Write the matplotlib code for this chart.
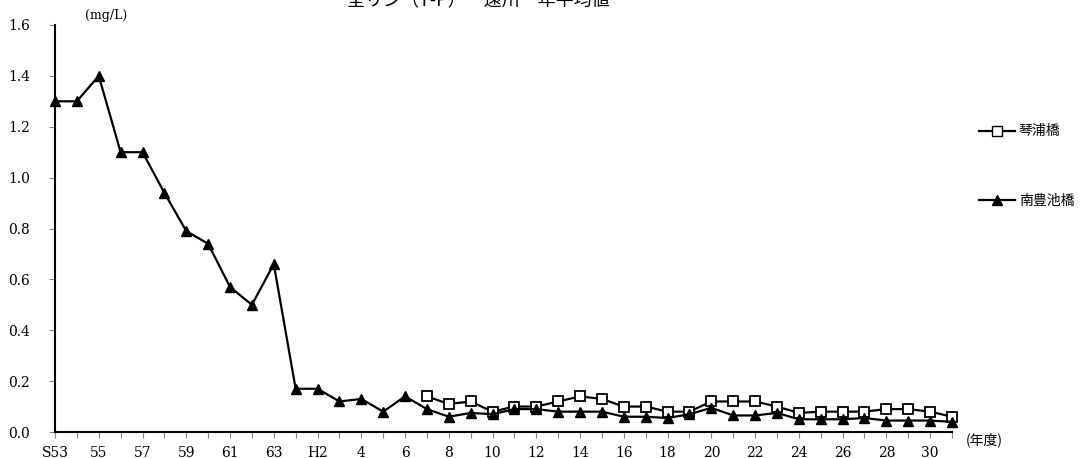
import matplotlib
matplotlib.use("Agg")
import matplotlib.pyplot as plt
from matplotlib.lines import Line2D

plt.rcParams['font.family'] = ['Noto Sans CJK JP', 'DejaVu Sans']

# 年度ラベル (S53〜H31)
years = ['S53', '54', '55', '56', '57', '58', '59', '60', '61', '62', '63',
         'H1', 'H2'] + [str(y) for y in range(3, 32)]

# 南豊池橋 (S53〜H31)
minami = [1.30, 1.30, 1.40, 1.10, 1.10, 0.94, 0.79, 0.74, 0.57, 0.50, 0.66,
          0.17, 0.17, 0.12, 0.13, 0.08, 0.14, 0.09, 0.06, 0.075, 0.07,
          0.09, 0.09, 0.08, 0.08, 0.08, 0.06, 0.06, 0.055, 0.07, 0.095,
          0.065, 0.065, 0.075, 0.05, 0.05, 0.05, 0.055, 0.045, 0.045, 0.045, 0.04]

# 琴浦橋 (H7〜H31)
kotoura = [0.14, 0.11, 0.12, 0.08, 0.10, 0.10, 0.12, 0.14, 0.13, 0.10,
           0.10, 0.08, 0.08, 0.12, 0.12, 0.12, 0.10, 0.075, 0.08, 0.08,
           0.08, 0.09, 0.09, 0.08, 0.06]

yticks = [0.0, 0.2, 0.4, 0.6, 0.8, 1.0, 1.2, 1.4, 1.6]

serif = ['DejaVu Serif']

fig = plt.figure(figsize=(10.88, 4.58), dpi=100)
ax = fig.add_axes([55 / 1088, 1 - 432 / 458, (952 - 55) / 1088, (432 - 25) / 458])

x_all = list(range(len(years)))
start = years.index('7')
x_k = x_all[start:start + len(kotoura)]

ax.plot(x_k, kotoura, color='black', lw=1.6, marker='s', ms=7.5,
        mfc='white', mec='black', mew=1.3, clip_on=False, zorder=3, label='琴浦橋')
ax.plot(x_all, minami, color='black', lw=1.6, marker='^', ms=7.5,
        mfc='black', mec='black', clip_on=False, zorder=4, label='南豊池橋')

ax.set_xlim(0, len(years) - 1)
ax.set_ylim(0, 1.6)

ax.set_xticks(x_all)
ax.set_xticklabels([y if i % 2 == 0 else '' for i, y in enumerate(years)],
                   family=serif, fontsize=10)
ax.set_yticks(yticks)
ax.set_yticklabels(['%.1f' % v for v in yticks], family=serif, fontsize=10)
ax.tick_params(axis='x', direction='out', length=4, color='#888888', pad=6)
ax.tick_params(axis='y', direction='out', length=4, color='#888888', pad=14)

for s in ['top', 'right']:
    ax.spines[s].set_visible(False)
for s in ['left', 'bottom']:
    ax.spines[s].set_linewidth(1.5)

fig.text(85 / 1088, 1 - 15 / 458, '(mg/L)', ha='left', va='center',
         fontsize=9, family=serif)
fig.text(966 / 1088, 1 - 440 / 458, '(年度)', ha='left', va='center', fontsize=10)

fig.text(0.44, 1 - 1 / 458, '全リン（T-P）　遠川　年平均値', ha='center', va='center',
         fontsize=13)

handles = [Line2D([], [], color='black', lw=1.6, marker='s', ms=7.5, mfc='white', mec='black'),
           Line2D([], [], color='black', lw=1.6, marker='^', ms=7.5, mfc='black')]
fig.legend(handles, ['琴浦橋', '南豊池橋'], loc='upper left',
           bbox_to_anchor=(966 / 1088, 1 - 112 / 458), frameon=False, fontsize=10,
           handlelength=2.6, handletextpad=0.3, labelspacing=4.0)

fig.savefig('out.png', dpi=100)
